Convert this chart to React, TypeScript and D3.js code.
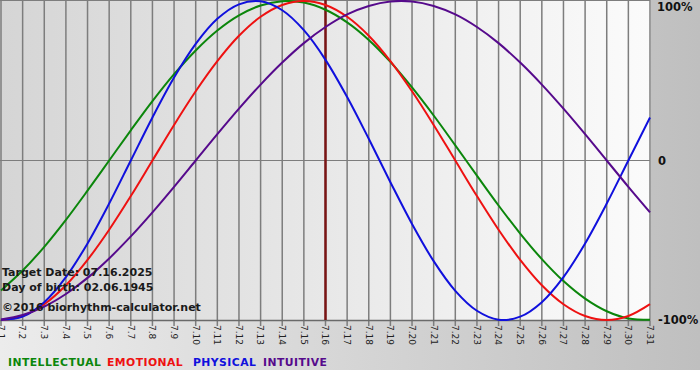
import React from "react";
import * as d3 from "d3";

const days = ["7.1","7.2","7.3","7.4","7.5","7.6","7.7","7.8","7.9","7.10","7.11","7.12","7.13","7.14","7.15","7.16","7.17","7.18","7.19","7.20","7.21","7.22","7.23","7.24","7.25","7.26","7.27","7.28","7.29","7.30","7.31"];
const intellectual = [-81.5,-69.0,-54.1,-37.2,-18.9,0,18.9,37.2,54.1,69.0,81.5,91.0,97.2,99.9,99.0,94.5,86.6,75.6,61.8,45.8,28.2,9.5,-9.5,-28.2,-45.8,-61.8,-75.6,-86.6,-94.5,-99.0,-99.9];
const emotional = [-100,-97.5,-90.1,-78.2,-62.3,-43.4,-22.3,0,22.3,43.4,62.3,78.2,90.1,97.5,100,97.5,90.1,78.2,62.3,43.4,22.3,0,-22.3,-43.4,-62.3,-78.2,-90.1,-97.5,-100,-97.5,-90.1];
const physical = [-99.8,-97.9,-88.8,-73.1,-52.0,-27.0,0,27.0,52.0,73.1,88.8,97.9,99.8,94.2,81.7,63.1,39.8,13.6,-13.6,-39.8,-63.1,-81.7,-94.2,-99.8,-97.9,-88.8,-73.1,-52.0,-27.0,0,27.0];
const intuitive = [-99.7,-96.9,-91.6,-83.7,-73.6,-61.4,-47.6,-32.5,-16.5,0,16.5,32.5,47.6,61.4,73.6,83.7,91.6,96.9,99.7,99.7,96.9,91.6,83.7,73.6,61.4,47.6,32.5,16.5,0,-16.5,-32.5];
const yLabels = [{ v: 100, t: "100%" }, { v: 0, t: "0" }, { v: -100, t: "-100%" }];
const targetIndex = 15;
const infoLines = ["Target Date: 07.16.2025", "Day of birth: 02.06.1945", "©2016 biorhythm-calculator.net"];

const series = [
  { name: "INTELLECTUAL", values: intellectual, color: "#0b860b", lx: 8 },
  { name: "EMOTIONAL", values: emotional, color: "#ee1111", lx: 107 },
  { name: "PHYSICAL", values: physical, color: "#1010dd", lx: 193 },
  { name: "INTUITIVE", values: intuitive, color: "#560a8c", lx: 263 },
];

export default function App() {
  const W = 700, H = 370;
  const left = 1, right = 650, top = 1, bottom = 320;
  const x = d3.scaleLinear().domain([0, days.length - 1]).range([left, right]);
  const y = d3.scaleLinear().domain([-100, 100]).range([bottom, top]);
  const line = d3
    .line<number>()
    .x((_, i) => x(i))
    .y((v) => y(v))
    .curve(d3.curveCatmullRom.alpha(0.5));
  const font = "'DejaVu Sans', Verdana, sans-serif";
  const infoY = [275.5, 290.5, 311];

  return (
    <div style={{ position: "absolute", left: 0, top: 0 }}>
      <svg width={W} height={H} style={{ display: "block" }}>
        <defs>
          <linearGradient id="bgG" x1="0" x2="1" y1="0" y2="0">
            <stop offset="0" stopColor="#ececec" />
            <stop offset="1" stopColor="#bfbfbf" />
          </linearGradient>
          <linearGradient id="plotG" x1="0" x2="1" y1="0" y2="0">
            <stop offset="0" stopColor="#d5d5d5" />
            <stop offset="1" stopColor="#fbfbfb" />
          </linearGradient>
          <clipPath id="clipP">
            <rect x={0} y={0} width={right + 1} height={bottom + 1} />
          </clipPath>
        </defs>
        <rect x={0} y={0} width={W} height={H} fill="url(#bgG)" />
        <rect x={0} y={0} width={right + 1} height={bottom + 1} fill="url(#plotG)" />
        {days.map((d, i) => (
          <line key={"g" + d} x1={x(i)} x2={x(i)} y1={0} y2={bottom + 6} stroke="#7d7d7d" strokeWidth={1.5} />
        ))}
        <line x1={0} x2={right} y1={y(0)} y2={y(0)} stroke="#7d7d7d" strokeWidth={1} />
        <line x1={0} x2={right} y1={0.5} y2={0.5} stroke="#7d7d7d" strokeWidth={1} />
        <line x1={0} x2={right} y1={bottom + 0.5} y2={bottom + 0.5} stroke="#6a6a6a" strokeWidth={1.5} />
        <line x1={x(targetIndex)} x2={x(targetIndex)} y1={0} y2={bottom} stroke="#7a1414" strokeWidth={2.5} />
        <g clipPath="url(#clipP)">
          {series.map((s) => (
            <path key={s.name} d={line(s.values) || ""} fill="none" stroke={s.color} strokeWidth={2} />
          ))}
        </g>
        {days.map((d, i) => (
          <text
            key={"t" + d}
            transform={`translate(${x(i)},${bottom + 5}) rotate(90)`}
            dy="0.35em"
            fontFamily={font}
            fontSize={9}
            fill="#222"
          >
            {d}
          </text>
        ))}
        {yLabels.map((l) => (
          <text
            key={l.t}
            x={l.v === 100 ? 657 : 658}
            y={Math.min(Math.max(y(l.v), 7), bottom)}
            dy="0.38em"
            fontFamily={font}
            fontWeight="bold"
            fontSize={11.5}
            fill="#111"
          >
            {l.t}
          </text>
        ))}
        {infoLines.map((t, i) => (
          <text key={t} x={2} y={infoY[i]} fontFamily={font} fontWeight="bold" fontSize={11} fill="#1a1a1a">
            {t}
          </text>
        ))}
        {series.map((s) => (
          <text
            key={"l" + s.name}
            x={s.lx}
            y={366}
            fontFamily={font}
            fontWeight="bold"
            fontSize={10.8}
            letterSpacing={0.45}
            fill={s.color}
          >
            {s.name}
          </text>
        ))}
      </svg>
    </div>
  );
}
